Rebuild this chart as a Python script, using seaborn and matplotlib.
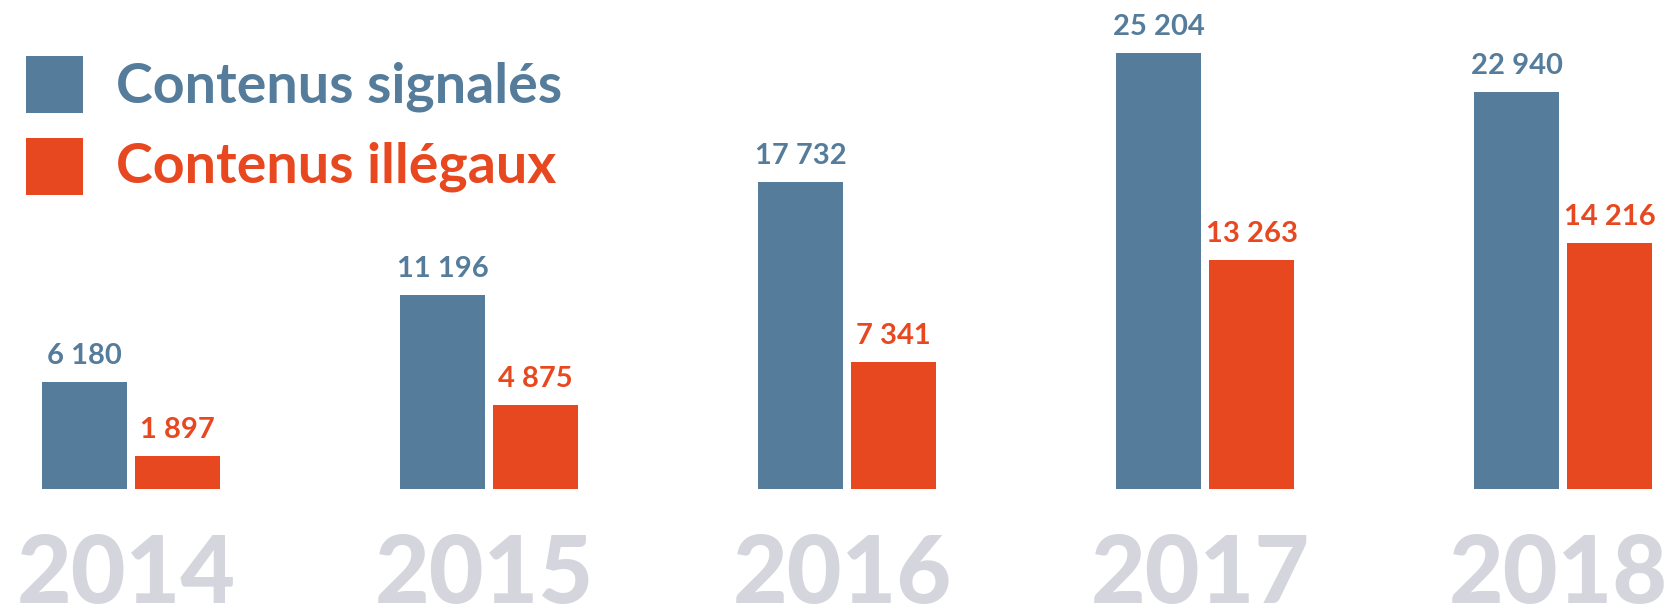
import pandas as pd
import matplotlib.pyplot as plt
from matplotlib.patches import Rectangle
import seaborn as sns

years = ["2014", "2015", "2016", "2017", "2018"]
series = ["Contenus signalés", "Contenus illégaux"]
signales = [6180, 11196, 17732, 25204, 22940]
illegaux = [1897, 4875, 7341, 13263, 14216]
colors = ["#557d9b", "#e84820"]

df = pd.DataFrame({
    "year": years * 2,
    "serie": [series[0]] * len(years) + [series[1]] * len(years),
    "value": signales + illegaux,
})

W, H = 1675, 609
fig = plt.figure(figsize=(W / 100, H / 100), dpi=100)
ax = fig.add_axes([0, 0, 1, 1])

sns.barplot(data=df, x="year", y="value", hue="serie", palette=colors,
            width=0.52, gap=0.086, saturation=1, legend=False, ax=ax)

# pixel -> data mapping (group centre at 131 px, step 358 px, baseline 489 px)
px_per_unit = 0.0173
ax.set_xlim(-131 / 358, (W - 131) / 358)
ax.set_ylim(-(H - 489) / px_per_unit, 489 / px_per_unit)
ax.axis("off")

font = "Lato"
for cont, col in zip(ax.containers, colors):
    for bar in cont:
        v = bar.get_height()
        ax.text(bar.get_x() + bar.get_width() / 2, v + 18 / px_per_unit,
                f"{int(v):,}".replace(",", " "), ha="center", va="baseline",
                color=col, fontsize=21, fontweight="bold", family=font)

for i, y in enumerate(years):
    ax.text(i - 0.013, -(603 - 489) / px_per_unit, y, ha="center", va="baseline",
            color="#d5d5de", fontsize=68, fontweight="black", family=font)

# legend
for k, (name, col) in enumerate(zip(series, colors)):
    top = 56 + k * 82
    fig.add_artist(Rectangle((26 / W, 1 - (top + 57) / H), 57 / W, 57 / H,
                             transform=fig.transFigure, color=col, lw=0))
    fig.text(116 / W, 1 - (103 + k * 80) / H, name, color=col, fontsize=40,
             fontweight="bold", family=font, va="baseline", ha="left")

fig.savefig("out.png", dpi=100)
